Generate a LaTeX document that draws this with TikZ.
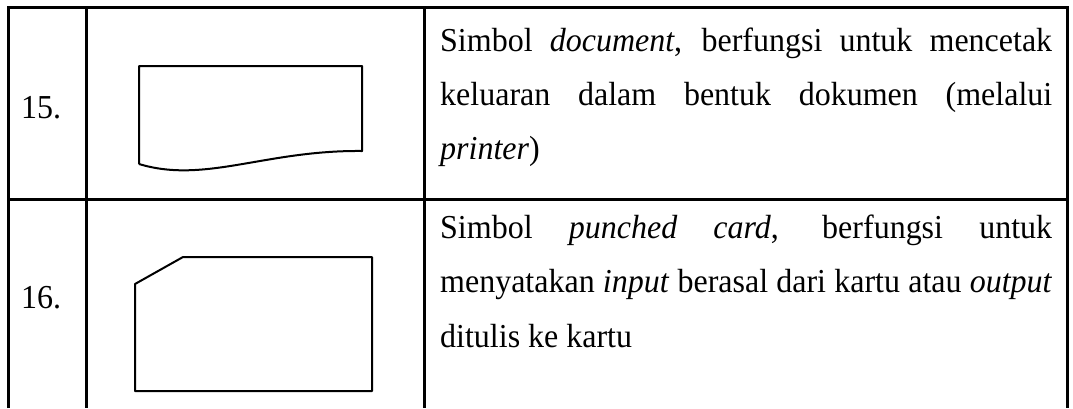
\documentclass[tikz,border=0pt]{standalone}
\usepackage{fontspec}
\setmainfont{Liberation Serif}[FakeStretch=0.955]

\begin{document}
\begin{tikzpicture}[x=1pt, y=-1pt,
	rule/.style={line width=3pt},
	sym/.style={line width=2pt, line join=round},
	txt/.style={anchor=base west, inner sep=0pt, font=\fontsize{33.5}{54}\selectfont}]
	\useasboundingbox (0,0) rectangle (1073,408);

	\draw[rule] (8,408) -- (8,7) -- (1067,7) -- (1067,408);
	\draw[rule] (86,7) -- (86,408);
	\draw[rule] (424,7) -- (424,408);
	\draw[rule] (8,199) -- (1067,199);

	\node[txt] (no15) at (21,118) {15.};
	\node[txt] (no16) at (21,308) {16.};

	\draw[sym] (139,164) -- (139,66) -- (362,66) -- (362,151)
		.. controls (265,150) and (205,184) .. (139,164);

	\draw[sym] (135,284) -- (183,257) -- (372,257) -- (372,391) -- (135,391) -- cycle;

	\node[txt] (doc1) at (440,51) {\makebox[612pt][s]{Simbol \textit{document}, berfungsi untuk mencetak}};
	\node[txt] (doc2) at (440,105) {\makebox[612pt][s]{keluaran dalam bentuk dokumen (melalui}};
	\node[txt] (doc3) at (440,159) {\textit{printer})};

	\node[txt] (card1) at (440,238) {\makebox[612pt][s]{Simbol \textit{punched card}, berfungsi untuk}};
	\node[txt] (card2) at (440,292) {\makebox[612pt][s]{menyatakan \textit{input} berasal dari kartu atau \textit{output}}};
	\node[txt] (card3) at (440,347) {ditulis ke kartu};
\end{tikzpicture}
\end{document}
